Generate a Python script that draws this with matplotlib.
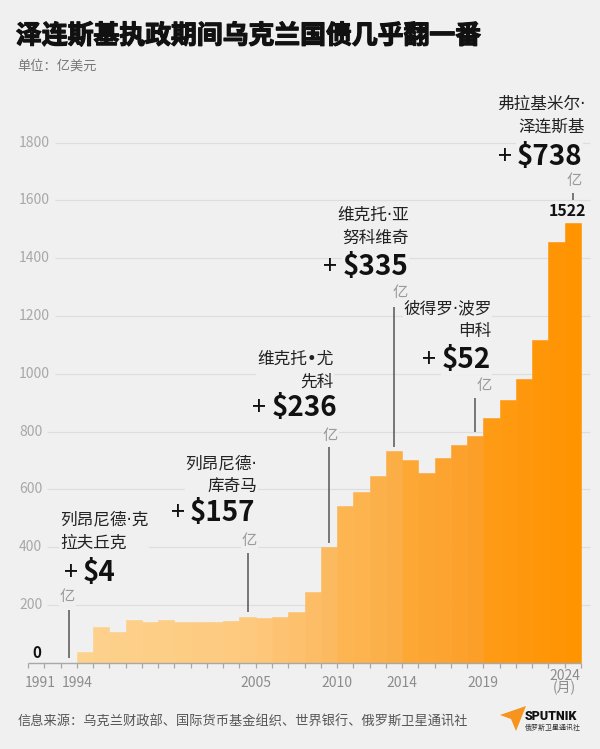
import matplotlib
matplotlib.use('Agg')
import matplotlib.pyplot as plt
import matplotlib.patheffects as pe
import numpy as np
from matplotlib.colors import to_rgb
from matplotlib.patches import Polygon

plt.rcParams['font.family'] = ['Noto Sans CJK SC', 'DejaVu Sans']
NAME_FAMILY = ['DejaVu Sans', 'Noto Sans CJK SC']  # narrow middle dot from DejaVu

# ---------------- data ----------------
years = list(range(1991, 2025))
debt = [0, 0, 0, 39, 123, 107, 148, 142, 149, 140, 140, 141, 143, 159,
        154, 158, 177, 246, 399,
        543, 592, 647, 734,
        700, 657, 708, 754, 783,
        846, 910, 982, 1117, 1457, 1522]

presidents = ['列昂尼德·克\n拉夫丘克', '列昂尼德·\n库奇马', '维克托•尤\n先科',
              '维克托·亚\n努科维奇', '彼得罗·波罗\n申科', '弗拉基米尔·\n泽连斯基']
gains = ['$4', '$157', '$236', '$335', '$52', '$738']
term_start = [1991, 1994, 2005, 2010, 2014, 2019]
term_last = [1993, 2004, 2009, 2013, 2018, 2024]

yticks = [200, 400, 600, 800, 1000, 1200, 1400, 1600, 1800]
xtick_years = [1991, 1994, 2005, 2010, 2014, 2019]
last_label = '2024\n(月)'

title = '泽连斯基执政期间乌克兰国债几乎翻一番'
subtitle = '单位：亿美元'
source = '信息来源：乌克兰财政部、国际货币基金组织、世界银行、俄罗斯卫星通讯社'

# ---------------- style ----------------
BG = '#F0F0F0'
band_colors = [('#FDD08A', '#FDD08A'), ('#FDD28C', '#FDC97E'), ('#FDC678', '#FCBA60'),
               ('#FDB552', '#FCAE46'), ('#FDA735', '#FC9F28'), ('#FE9A14', '#FF9300')]

# annotation layout (data coords): name, number, 亿, line top, line gap above bar
layout = [
    dict(ha='left', name=(1992.97, 456), num=(1994.38, 312), yi=(1992.97, 229), top=183, gap=16),
    dict(ha='right', name=(2005.08, 652), num=(2004.99, 517), yi=(2005.08, 422), top=380, gap=18),
    dict(ha='right', name=(2009.77, 1013), num=(2010.02, 880), yi=(2010.06, 788), top=745, gap=14),
    dict(ha='right', name=(2014.44, 1510), num=(2014.38, 1368), yi=(2014.37, 1280), top=1232, gap=14),
    dict(ha='right', name=(2019.51, 1186), num=(2019.45, 1047), yi=(2019.51, 961), top=915, gap=17),
    dict(ha='right', name=(2025.25, 1894), num=(2025.10, 1751), yi=(2025.05, 1670), top=1625, gap=78),
]

W, H = 600, 749
PX_PER_YEAR = 16.265
BASE = 662.8
PX_PER_UNIT = 57.81 / 200

fig = plt.figure(figsize=(W / 100, H / 100), dpi=100, facecolor=BG)
ax_w = W - 28
ax_h = 1960 * PX_PER_UNIT
ax = fig.add_axes([28 / W, (H - BASE) / H, ax_w / W, ax_h / H])
ax.set_xlim(1991, 1991 + ax_w / PX_PER_YEAR)
ax.set_ylim(0, 1960)
ax.axis('off')


def fx(px):
    return px / W


def fy(py):
    return 1 - py / H


# bar colours: gradient inside each presidency band
colors = []
for yr in years:
    i = max(k for k in range(len(term_start)) if term_start[k] <= yr)
    s, e = term_start[i], term_last[i]
    t = 0 if e == s else (yr - s) / (e - s)
    c0, c1 = np.array(to_rgb(band_colors[i][0])), np.array(to_rgb(band_colors[i][1]))
    colors.append(tuple(c0 + (c1 - c0) * t))

ax.bar(years, debt, width=1, align='edge', color=colors, edgecolor=colors,
       linewidth=0.4, zorder=2)

# axis line and ticks
ax.plot([years[0], years[-1] + 1], [0, 0], color='#A8A8A8', lw=1.0, zorder=3,
        clip_on=False, solid_capstyle='butt')
tick_len = 5 / PX_PER_UNIT
ax.vlines(list(range(years[0], years[-1] + 2)), -tick_len, 0, color='#A8A8A8',
          lw=0.9, zorder=3, clip_on=False)

lab_y = -(683 - BASE) / PX_PER_UNIT
for yr in xtick_years:
    ha = 'left' if yr == years[0] else 'center'
    xx = yr - 0.2 if yr == years[0] else yr
    ax.text(xx, lab_y, str(yr), ha=ha, va='center', fontsize=10, color='#8C8C8C')
ax.text(years[-1], -(682 - BASE) / PX_PER_UNIT, last_label, ha='center', va='center',
        fontsize=10, color='#8C8C8C', linespacing=0.85)

# y labels
ylab_x = 1991 - 9 / PX_PER_YEAR
ylabels = []
for v in yticks:
    t = ax.text(ylab_x, v, str(v), ha='left', va='center', fontsize=10, color='#A8A8A8')
    ylabels.append(t)
ax.text(1991 + 9 / PX_PER_YEAR, 34, '0', ha='center', va='center', fontsize=11,
        weight='bold', color='#111111')

# title etc.
fig.text(fx(16), fy(36), title, fontsize=18.6, weight='black', color='#111111',
         ha='left', va='center',
         path_effects=[pe.withStroke(linewidth=0.9, foreground='#111111')])
fig.text(fx(17), fy(66), subtitle, fontsize=9.5, color='#777777', ha='left', va='center')
fig.text(fx(18), fy(722), source, fontsize=9.5, color='#555555', ha='left', va='center')

# annotations
for i, lay in enumerate(layout):
    ha = lay['ha']
    bb = dict(facecolor=BG, edgecolor='none', pad=0.5)
    ax.text(*lay['name'], presidents[i], ha=ha, va='center', fontsize=12, color='#222222',
            linespacing=1.35, zorder=5, bbox=bb, family=NAME_FAMILY)
    nt = ax.text(*lay['num'], gains[i], ha=ha, va='center', fontsize=20, weight='bold',
                 color='#111111', zorder=5, bbox=bb)
    ax.annotate('+', xy=(0, 0.5), xycoords=nt, xytext=(-4, 0), textcoords='offset points',
                ha='right', va='center', fontsize=18, color='#111111', zorder=5)
    ax.text(*lay['yi'], '亿', ha=ha, va='center', fontsize=11, color='#9A9A9A', zorder=5,
            bbox=bb)
    idx = years.index(term_last[i])
    ax.plot([term_last[i] + 0.5] * 2, [debt[idx] + lay['gap'], lay['top']],
            color='#555555', lw=1.1, zorder=4, solid_capstyle='butt')

ax.text(years[-1] + 0.17, 1564, f'{debt[-1]}', ha='center', va='center', fontsize=11.5,
        weight='bold', color='#111111', zorder=5)

# sputnik logo
logo = np.array([(500, 715), (526, 706), (516, 731), (511, 719)], dtype=float)
logo[:, 0] /= W
logo[:, 1] = 1 - logo[:, 1] / H
fig.patches.append(Polygon(logo, closed=True, transform=fig.transFigure,
                           facecolor='#F7941D', edgecolor='none'))
fig.text(fx(525), fy(716.5), 'SPUTNIK', fontsize=9, weight='black', family='Roboto',
         color='#111111', ha='left', va='center')
fig.text(fx(525), fy(728), '俄罗斯卫星通讯社', fontsize=5, color='#333333', ha='left',
         va='center')

# gridlines starting after the labels
fig.canvas.draw()
inv = ax.transData.inverted()
for v, t in zip(yticks, ylabels):
    b = t.get_window_extent()
    x0 = inv.transform((b.x1 + 5, 0))[0]
    ax.hlines(v, x0, 1991 + (590 - 28) / PX_PER_YEAR, color='#DDDDDD', lw=0.8, zorder=1)

fig.savefig('out.png', dpi=100, facecolor=BG)
